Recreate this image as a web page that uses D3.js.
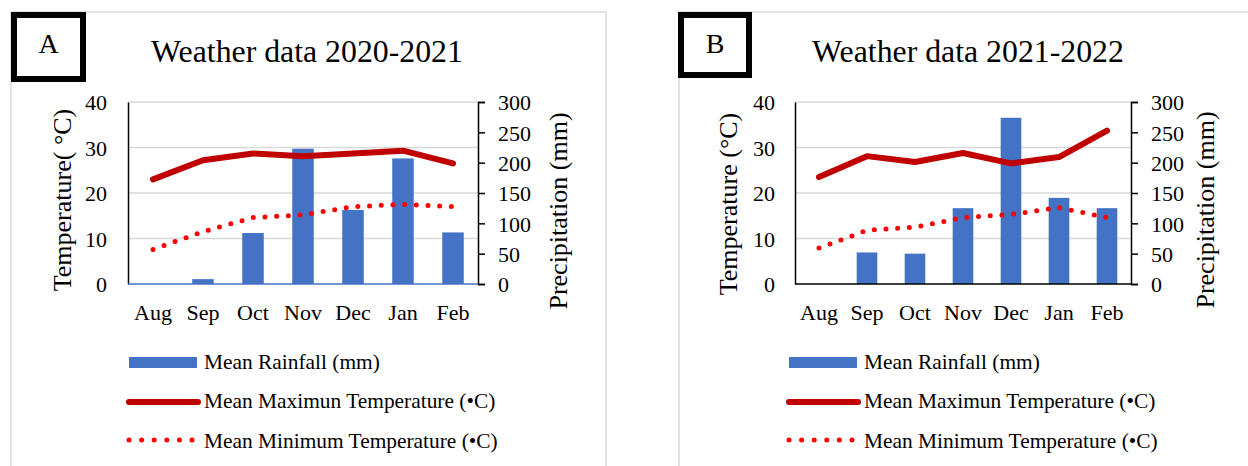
<!DOCTYPE html>
<html>
<head>
<meta charset="utf-8">
<script src="https://cdn.jsdelivr.net/npm/d3@7"></script>
<style>
  body { margin: 0; background: #fff; }
  svg text { font-family: "Liberation Serif", "Times New Roman", serif; fill: #000; }
</style>
</head>
<body>
<svg id="chart" width="1248" height="466"></svg>
<script>
const months = ["Aug", "Sep", "Oct", "Nov", "Dec", "Jan", "Feb"];
const tempTicks = [0, 10, 20, 30, 40];
const rainTicks = [0, 50, 100, 150, 200, 250, 300];

// panel A, 2020-2021
const rainA = [0, 8, 84, 223, 122, 207, 85];
const maxA = [23.0, 27.2, 28.7, 28.1, 28.7, 29.3, 26.5];
const minA = [7.6, 11.5, 14.6, 15.2, 17.0, 17.5, 17.0];

// panel B, 2021-2022
const rainB = [0, 52, 50, 125, 274, 142, 125];
const maxB = [23.5, 28.1, 26.8, 28.8, 26.5, 27.9, 33.7];
const minB = [7.9, 11.8, 12.5, 14.6, 15.3, 16.8, 14.6];

const legendLabels = ["Mean Rainfall (mm)", "Mean Maximun Temperature (\u2022C)", "Mean Minimum Temperature (\u2022C)"];

const BLUE = "#4472c4", DARKRED = "#c00000", RED = "#ff0000", GRID = "#d9d9d9";

const svg = d3.select("#chart");

function drawPanel(cfg) {
  const g = svg.append("g");

  // outer frame
  g.append("path")
    .attr("d", `M${cfg.frameL},470 V12 H${cfg.frameR} V470`)
    .attr("fill", "none").attr("stroke", GRID).attr("stroke-width", 1.5);

  // label box
  g.append("rect")
    .attr("x", cfg.box[0]).attr("y", cfg.box[1])
    .attr("width", cfg.box[2]).attr("height", cfg.box[3])
    .attr("fill", "#fff").attr("stroke", "#000").attr("stroke-width", 6);
  g.append("text")
    .attr("x", cfg.box[0] + cfg.box[2] / 2).attr("y", 53)
    .attr("text-anchor", "middle").attr("font-size", 28)
    .text(cfg.letter);

  g.append("text")
    .attr("x", cfg.titleX).attr("y", 62)
    .attr("text-anchor", "middle").attr("font-size", 31.8)
    .text(cfg.title);

  const x = d3.scaleBand().domain(months).range([cfg.left, cfg.right]);
  const yT = d3.scaleLinear().domain([0, 40]).range([284, 102]);
  const yP = d3.scaleLinear().domain([0, 300]).range([284, 102]);
  const bw = x.bandwidth();
  const cx = m => x(m) + bw / 2;

  // gridlines
  g.selectAll(".grid").data(tempTicks.slice(1)).join("line")
    .attr("x1", cfg.left).attr("x2", cfg.right)
    .attr("y1", d => yT(d)).attr("y2", d => yT(d))
    .attr("stroke", GRID).attr("stroke-width", 1.5);

  // bars
  g.selectAll(".bar").data(months.map((m, i) => ({ m, v: cfg.rain[i] })).filter(d => d.v > 0)).join("rect")
    .attr("x", d => cx(d.m) - bw * 0.215)
    .attr("width", bw * 0.43)
    .attr("y", d => yP(d.v))
    .attr("height", d => yP(0) - yP(d.v))
    .attr("fill", BLUE);

  // axes
  const leftAxis = g.append("g").attr("transform", `translate(${cfg.left},0)`)
    .call(d3.axisLeft(yT).tickValues(tempTicks).tickSize(0).tickPadding(cfg.left - cfg.tickLX));
  leftAxis.select(".domain").attr("stroke", "#000").attr("stroke-width", 1.5);
  leftAxis.selectAll("text").attr("font-size", 22).attr("font-family", "Liberation Serif").attr("dy", "0.36em");

  const rightAxis = g.append("g").attr("transform", `translate(${cfg.right},0)`)
    .call(d3.axisRight(yP).tickValues(rainTicks).tickSize(7).tickSizeOuter(7).tickPadding(13));
  rightAxis.selectAll("path, line").attr("stroke", "#000").attr("stroke-width", 1.5);
  rightAxis.selectAll("text").attr("font-size", 22).attr("font-family", "Liberation Serif").attr("dy", "0.36em");

  g.append("line")
    .attr("x1", cfg.left).attr("x2", cfg.right)
    .attr("y1", yT(0)).attr("y2", yT(0))
    .attr("stroke", cfg.baseColor).attr("stroke-width", 1.5);

  g.selectAll(".xlab").data(months).join("text")
    .attr("x", d => cx(d)).attr("y", 320)
    .attr("text-anchor", "middle").attr("font-size", 22)
    .text(d => d);

  // axis titles
  g.append("text")
    .attr("transform", `translate(${cfg.ltX},${cfg.ltY}) rotate(-90)`)
    .attr("text-anchor", "middle").attr("font-size", 26)
    .text(cfg.leftTitle);
  g.append("text")
    .attr("transform", `translate(${cfg.rtX},${cfg.rtY}) rotate(-90)`)
    .attr("text-anchor", "middle").attr("font-size", 26)
    .text("Precipitation (mm)");

  // lines
  const lineMax = d3.line().x((d, i) => cx(months[i])).y(d => yT(d));
  g.append("path").datum(cfg.max)
    .attr("d", lineMax)
    .attr("fill", "none").attr("stroke", DARKRED).attr("stroke-width", 6)
    .attr("stroke-linejoin", "round").attr("stroke-linecap", "round");
  g.append("path").datum(cfg.min)
    .attr("d", lineMax)
    .attr("fill", "none").attr("stroke", RED).attr("stroke-width", 5)
    .attr("stroke-dasharray", "0 11.7").attr("stroke-linecap", "round");

  // legend
  const lx = cfg.legendX;
  g.append("rect").attr("x", lx).attr("y", 357).attr("width", 68).attr("height", 11).attr("fill", BLUE);
  g.append("line").attr("x1", lx).attr("x2", lx + 69).attr("y1", 402).attr("y2", 402)
    .attr("stroke", DARKRED).attr("stroke-width", 6).attr("stroke-linecap", "round");
  g.append("line").attr("x1", lx).attr("x2", lx + 66).attr("y1", 440).attr("y2", 440)
    .attr("stroke", RED).attr("stroke-width", 5).attr("stroke-dasharray", "0 12.6").attr("stroke-linecap", "round");
  g.selectAll(".leg").data(legendLabels).join("text")
    .attr("x", lx + 75).attr("y", (d, i) => [369, 408, 448][i])
    .attr("font-size", 21.4)
    .text(d => d);
}

drawPanel({
  letter: "A", title: "Weather data 2020-2021", titleX: 307,
  frameL: 11, frameR: 606, box: [14, 15, 69, 64],
  left: 128, right: 478, tickLX: 107,
  rain: rainA, max: maxA, min: minA, baseColor: BLUE,
  leftTitle: "Temperature( \u00B0C)", ltX: 71, ltY: 200,
  rtX: 567, rtY: 211, legendX: 129
});

drawPanel({
  letter: "B", title: "Weather data 2021-2022", titleX: 968,
  frameL: 679, frameR: 1252, box: [681, 15, 68, 60],
  left: 795, right: 1131, tickLX: 775,
  rain: rainB, max: maxB, min: minB, baseColor: "#000",
  leftTitle: "Temperature (\u00B0C)", ltX: 737, ltY: 204,
  rtX: 1214, rtY: 210, legendX: 789
});
</script>
</body>
</html>
